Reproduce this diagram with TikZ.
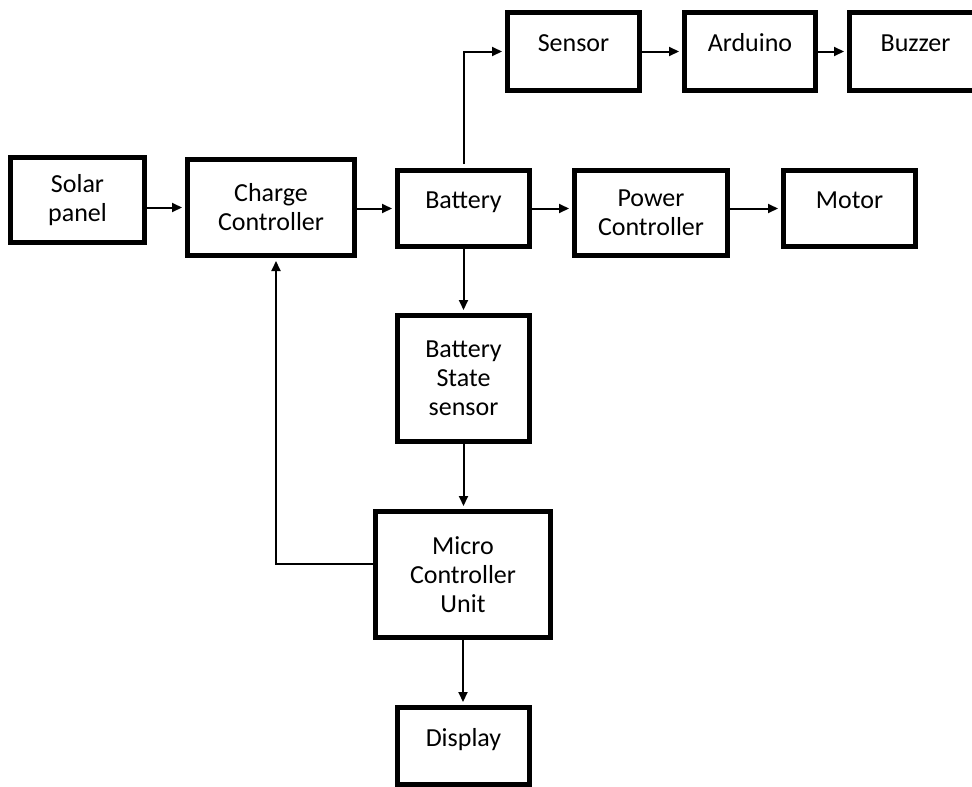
\documentclass[tikz,border=0pt]{standalone}
\usepackage{fontspec}
\setmainfont{Carlito}
\usetikzlibrary{arrows.meta,calc}
\begin{document}
\begin{tikzpicture}[x=1pt,y=-1pt,
  blk/.style={draw, line width=5pt, align=center, inner sep=0pt, font=\fontsize{26}{29}\selectfont},
  single/.style={text height=17pt, text depth=17pt},
  arr/.style={line width=2pt, -{Triangle[length=10pt,width=9pt]}, shorten >=3pt}]
\useasboundingbox (0,0) rectangle (972,787);
\clip (0,0) rectangle (972,787);
\node[blk, minimum width=134pt, minimum height=85pt] (solar) at (77.5,200) {Solar\\panel};
\node[blk, minimum width=167pt, minimum height=96pt] (charge) at (271,207.5) {Charge\\Controller};
\node[blk, single, minimum width=132pt, minimum height=76pt] (bat) at (463.5,208.5) {Battery};
\node[blk, single, minimum width=132pt, minimum height=78pt] (sensor) at (573.5,51.5) {Sensor};
\node[blk, single, minimum width=131pt, minimum height=78pt] (ard) at (750,51.5) {Arduino};
\node[blk, single, minimum width=132pt, minimum height=78pt] (buz) at (915.5,51.5) {Buzzer};
\node[blk, minimum width=153pt, minimum height=85pt] (power) at (651,213) {Power\\Controller};
\node[blk, single, minimum width=132pt, minimum height=76pt] (motor) at (849.5,208.5) {Motor};
\node[blk, minimum width=132pt, minimum height=126pt] (bss) at (463.5,378.5) {Battery\\State\\sensor};
\node[blk, minimum width=175pt, minimum height=126pt] (mcu) at (463,574.5) {Micro\\Controller\\Unit};
\node[blk, single, minimum width=132pt, minimum height=77pt] (disp) at (463.5,746) {Display};

\draw[arr] (solar.east |- charge.west) -- (charge.west);
\draw[arr] (charge.east |- bat.west) -- (bat.west);
\draw[arr, shorten <=4pt] (bat.north) |- (sensor.west);
\draw[arr] (sensor.east) -- (ard.west);
\draw[arr] (ard.east) -- (buz.west);
\draw[arr] (bat.east) -- (bat.east -| power.west);
\draw[arr] (power.east |- motor.west) -- (motor.west);
\draw[arr] (bat.south) -- (bss.north);
\draw[arr] (bss.south) -- (bss.south |- mcu.north);
\draw[arr] (mcu.south) -- (mcu.south |- disp.north);
\draw[arr] ([yshift=10.5pt]mcu.west) -| ([xshift=5pt]charge.south);
\end{tikzpicture}
\end{document}
